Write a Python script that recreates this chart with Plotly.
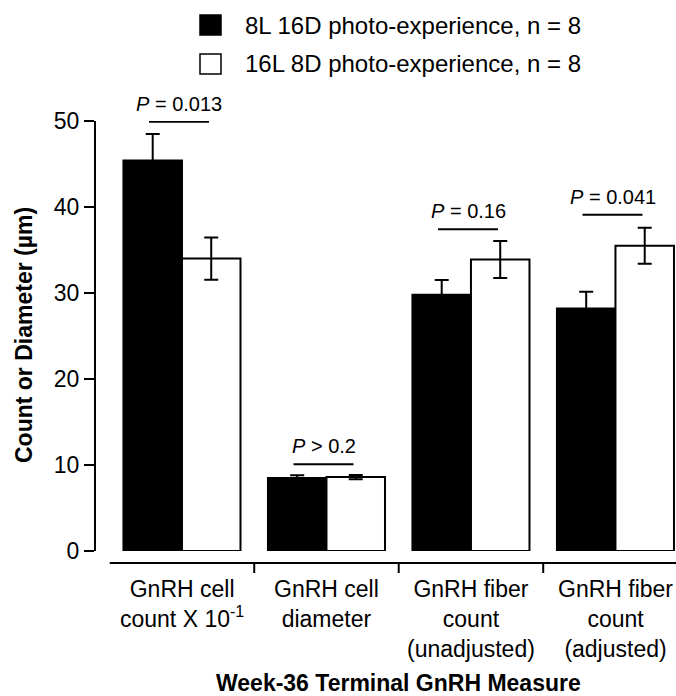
import plotly.graph_objects as go

# ---- data ----
categories = ["GnRH cell<br>count X 10<sup>-1</sup>", "GnRH cell<br>diameter",
              "GnRH fiber<br>count<br>(unadjusted)", "GnRH fiber<br>count<br>(adjusted)"]
short_vals_8L = [45.4, 8.5, 29.8, 28.2]
err_8L = [3.1, 0.3, 1.7, 1.95]
vals_16L = [34.0, 8.6, 33.9, 35.5]
err_16L = [2.45, 0.25, 2.15, 2.1]
p_labels = ["<i>P</i> = 0.013", "<i>P</i> > 0.2", "<i>P</i> = 0.16", "<i>P</i> = 0.041"]
p_line_y = [49.9, 10.1, 37.4, 39.1]
series_names = ["8L 16D photo-experience, n = 8", "16L 8D photo-experience, n = 8"]
y_ticks = [0, 10, 20, 30, 40, 50]
x_title = "Week-36 Terminal GnRH Measure"
y_title = "Count or Diameter (µm)"

FONT = "Liberation Sans, Arial, Helvetica, sans-serif"
W, H = 676, 696
ML, MR, MT, MB = 96, 0, 121, 145
XR = [-0.595, 3.419]
YR = [0, 50]
pw = W - ML - MR
ph = H - MT - MB

def xp(px):  # pixel -> paper x
    return (px - ML) / pw

def yp(py):  # pixel -> paper y
    return (H - MB - py) / ph

def dx2p(x):  # data x -> paper x
    return (x - XR[0]) / (XR[1] - XR[0])

xs = list(range(len(categories)))

fig = go.Figure()
fig.add_trace(go.Bar(
    x=xs, y=short_vals_8L, name=series_names[0],
    marker=dict(color="black", line=dict(color="black", width=2)),
    error_y=dict(type="data", array=err_8L, color="black", thickness=2, width=7),
))
fig.add_trace(go.Bar(
    x=xs, y=vals_16L, name=series_names[1],
    marker=dict(color="white", line=dict(color="black", width=2)),
    error_y=dict(type="data", array=err_16L, color="black", thickness=2, width=7),
))

shapes = []
annotations = []

# P-value lines and labels
for i, (lab, ly) in enumerate(zip(p_labels, p_line_y)):
    shapes.append(dict(type="line", xref="x", yref="y", x0=i - 0.228, x1=i + 0.187,
                       y0=ly, y1=ly, line=dict(color="black", width=2)))
    annotations.append(dict(x=i - 0.02, y=ly, xref="x", yref="y", text=lab,
                            showarrow=False, yanchor="middle", yshift=18,
                            font=dict(size=20, color="black", family=FONT)))

# x axis baseline (separate from y axis) and category separators
shapes.append(dict(type="line", xref="paper", yref="paper", x0=dx2p(-0.5), x1=1,
                   y0=yp(563), y1=yp(563), line=dict(color="black", width=2)))
for s in [0.5, 1.5, 2.5]:
    shapes.append(dict(type="line", xref="paper", yref="paper", x0=dx2p(s), x1=dx2p(s),
                       y0=yp(563), y1=yp(573), line=dict(color="black", width=2)))

# category labels
for i, c in enumerate(categories):
    annotations.append(dict(x=dx2p(i), y=yp(574), xref="paper", yref="paper", text=c,
                            showarrow=False, xanchor="center", yanchor="top",
                            font=dict(size=23, color="black", family=FONT)))

# axis titles
annotations.append(dict(x=dx2p(1.5), y=yp(683), xref="paper", yref="paper",
                        text="<b>" + x_title + "</b>", showarrow=False,
                        xanchor="center", yanchor="middle",
                        font=dict(size=23, color="black", family=FONT)))
annotations.append(dict(x=xp(24), y=yp(335), xref="paper", yref="paper",
                        text="<b>" + y_title + "</b>", showarrow=False, textangle=-90,
                        xanchor="center", yanchor="middle",
                        font=dict(size=23, color="black", family=FONT)))

# manual legend
legend_rows = [(25, "black"), (64, "white")]
for (cy, fill), name in zip(legend_rows, series_names):
    shapes.append(dict(type="rect", xref="paper", yref="paper",
                       x0=xp(200), x1=xp(221), y0=yp(cy - 10), y1=yp(cy + 10),
                       fillcolor=fill, line=dict(color="black", width=1.5)))
    annotations.append(dict(x=xp(243), y=yp(cy), xref="paper", yref="paper", text=name,
                            showarrow=False, xanchor="left", yanchor="middle",
                            font=dict(size=24, color="black", family=FONT)))

fig.update_layout(
    width=W, height=H,
    margin=dict(l=ML, r=MR, t=MT, b=MB, pad=0),
    paper_bgcolor="white", plot_bgcolor="white",
    barmode="group", bargap=0.19, bargroupgap=0,
    showlegend=False,
    font=dict(family=FONT, color="black"),
    xaxis=dict(range=XR, showgrid=False, zeroline=False, showline=False,
               showticklabels=False, ticks=""),
    yaxis=dict(range=YR, tickvals=y_ticks, showgrid=False, zeroline=False,
               showline=True, linecolor="black", linewidth=2,
               ticks="outside", ticklen=10, tickwidth=2, tickcolor="black",
               tickfont=dict(size=23, color="black", family=FONT)),
    shapes=shapes, annotations=annotations,
)

fig.write_html("out.html", config={"displayModeBar": False},
               post_script="document.body.style.margin='0';document.body.style.padding='0';")
